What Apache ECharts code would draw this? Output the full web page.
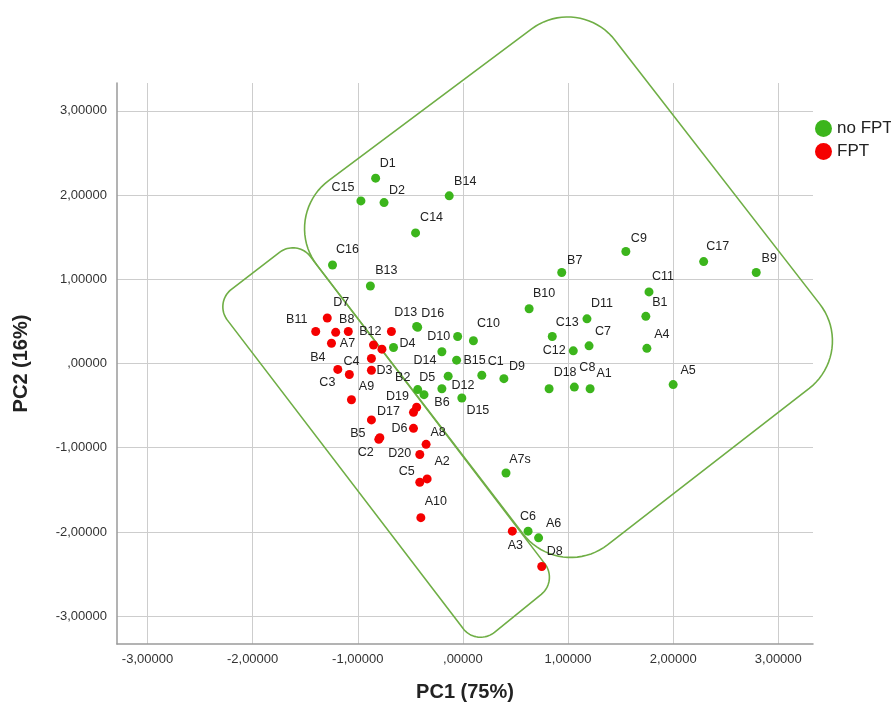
<!DOCTYPE html>
<html>
<head>
<meta charset="utf-8">
<script src="https://cdn.jsdelivr.net/npm/echarts@6/dist/echarts.min.js"></script>
<style>
html,body{margin:0;padding:0;background:#fff;}
#chart{width:891px;height:707px;}
</style>
</head>
<body>
<div id="chart"></div>
<script>
// ---- data ----
const xTicks = [-3, -2, -1, 0, 1, 2, 3];
const yTicks = [-3, -2, -1, 0, 1, 2, 3];

const noFptNames = ['D1','C15','D2','B14','C14','C16','B13','D13','D16','D10','C10','D4','D14','B15','C1','D9','D5','D12','B2','B6','D15','A7s','C6','A6','B10','B7','C9','C17','B9','C11','B1','D11','C13','C7','C12','A4','D18','C8','A1','A5'];
const noFptPC1 = [-0.83,-0.97,-0.75,-0.13,-0.45,-1.24,-0.88,-0.44,-0.43,-0.05,0.10,-0.66,-0.20,-0.06,0.18,0.39,-0.14,-0.20,-0.43,-0.37,-0.01,0.41,0.62,0.72,0.63,0.94,1.55,2.29,2.79,1.77,1.74,1.18,0.85,1.20,1.05,1.75,0.82,1.06,1.21,2.00];
const noFptPC2 = [2.20,1.93,1.91,1.99,1.55,1.17,0.92,0.44,0.43,0.32,0.27,0.19,0.14,0.04,-0.14,-0.18,-0.15,-0.30,-0.31,-0.37,-0.41,-1.30,-1.99,-2.07,0.65,1.08,1.33,1.21,1.08,0.85,0.56,0.53,0.32,0.21,0.15,0.18,-0.30,-0.28,-0.30,-0.25];

const fptNames = ['D7','B11','B8','','B12','A7','','','C4','B4','C3','D3','A9','','D19','D17','D6','B5','C2','A8','D20','C5','A2','A10','A3','D8'];
const fptPC1 = [-1.29,-1.40,-1.21,-1.09,-0.68,-1.25,-0.85,-0.77,-0.87,-1.19,-1.08,-0.87,-1.06,-0.44,-0.47,-0.87,-0.47,-0.79,-0.80,-0.35,-0.41,-0.41,-0.34,-0.40,0.47,0.75];
const fptPC2 = [0.54,0.38,0.37,0.38,0.38,0.24,0.22,0.17,0.06,-0.07,-0.13,-0.08,-0.43,-0.52,-0.58,-0.67,-0.77,-0.88,-0.90,-0.96,-1.08,-1.41,-1.37,-1.83,-1.99,-2.41];

// annotation outlines (corner points in PC units, drawn with rounded corners)
const regionNoFpt = [[1.103,4.391],[3.745,0.142],[0.922,-2.592],[-1.740,1.740]];
const regionFpt = [[-1.578,1.479],[0.903,-2.580],[0.133,-3.361],[-2.367,0.722]];

// label placement (pixel offsets of each label from its point)
const labelOffset = {
  D1:[12,-15], C15:[-18,-13], D2:[13,-12], B14:[16,-14], C14:[16,-15], C16:[15,-15], B13:[16,-15],
  D13:[-11,-14], D16:[15,-14], D10:[-19,0], C10:[15,-17], D4:[14,-4], D14:[-17,9], B15:[18,0],
  C1:[14,-14], D9:[13,-12], D5:[-21,1], D12:[21,-3], B2:[-15,-12], B6:[18,8], D15:[16,13],
  A7s:[14,-13], C6:[0,-15], A6:[15,-14], B10:[15,-15], B7:[13,-12], C9:[13,-13], C17:[14,-15],
  B9:[13,-14], C11:[14,-15], B1:[14,-14], D11:[15,-15], C13:[15,-14], C7:[14,-14], C12:[-19,0],
  A4:[15,-14], D18:[16,-16], C8:[13,-20], A1:[14,-15], A5:[15,-14],
  D7:[14,-15], B11:[-19,-12], B8:[11,-13], B12:[-21,0], A7:[16,0], C4:[-20,3], B4:[-20,-12],
  C3:[-22,8], D3:[13,0], A9:[15,-13], D19:[-16,-16], D17:[17,-8], D6:[-14,0], B5:[-22,-4],
  C2:[-13,13], A8:[12,-12], D20:[-20,-1], C5:[-13,-11], A2:[15,-17], A10:[15,-16], A3:[3,14], D8:[13,-15]
};

function fmt(v) {
  let s = Math.abs(v).toFixed(5).replace('.', ',');
  if (s.startsWith('0,')) s = s.slice(1);
  return (v < 0 ? '-' : '') + s;
}

function buildPoints(names, xs, ys) {
  return names.map((n, i) => {
    const off = labelOffset[n];
    return {
      name: n,
      value: [xs[i], ys[i]],
      label: n ? { show: true, position: 'inside', formatter: '{b}', offset: off || [14, -14] } : { show: false }
    };
  });
}

function roundedPoints(corners, r) {
  const pts = [];
  const n = corners.length;
  for (let i = 0; i < n; i++) {
    const p = corners[i], a = corners[(i + n - 1) % n], b = corners[(i + 1) % n];
    let u1 = [a[0] - p[0], a[1] - p[1]], u2 = [b[0] - p[0], b[1] - p[1]];
    const l1 = Math.hypot(u1[0], u1[1]), l2 = Math.hypot(u2[0], u2[1]);
    u1 = [u1[0] / l1, u1[1] / l1]; u2 = [u2[0] / l2, u2[1] / l2];
    const theta = Math.acos(Math.max(-1, Math.min(1, u1[0] * u2[0] + u1[1] * u2[1])));
    let t = r / Math.tan(theta / 2);
    t = Math.min(t, l1 * 0.45, l2 * 0.45);
    const rr = t * Math.tan(theta / 2);
    const bis = [u1[0] + u2[0], u1[1] + u2[1]];
    const lb = Math.hypot(bis[0], bis[1]);
    const dc = rr / Math.sin(theta / 2);
    const c = [p[0] + bis[0] / lb * dc, p[1] + bis[1] / lb * dc];
    const A = [p[0] + u1[0] * t, p[1] + u1[1] * t], B = [p[0] + u2[0] * t, p[1] + u2[1] * t];
    const a0 = Math.atan2(A[1] - c[1], A[0] - c[0]);
    const a1 = Math.atan2(B[1] - c[1], B[0] - c[0]);
    let d = a1 - a0;
    while (d > Math.PI) d -= 2 * Math.PI;
    while (d < -Math.PI) d += 2 * Math.PI;
    const steps = 20;
    for (let k = 0; k <= steps; k++) {
      const ang = a0 + d * k / steps;
      pts.push([c[0] + rr * Math.cos(ang), c[1] + rr * Math.sin(ang)]);
    }
  }
  return pts;
}

const regions = [
  { corners: regionNoFpt, radius: 60 },
  { corners: regionFpt, radius: 22 }
];

const FONT = "'Liberation Sans', Arial, sans-serif";

const chart = echarts.init(document.getElementById('chart'), null, { renderer: 'canvas' });
chart.setOption({
  backgroundColor: '#ffffff',
  animation: false,
  textStyle: { fontFamily: FONT },
  grid: { left: 117, right: 78, top: 83, bottom: 62, containLabel: false },
  legend: {
    data: [{ name: 'no FPT' }, { name: 'FPT' }],
    orient: 'vertical',
    left: 815, top: 120, padding: 0,
    icon: 'circle',
    itemWidth: 17, itemHeight: 17, itemGap: 6,
    textStyle: { fontSize: 17, color: '#222', fontFamily: FONT }
  },
  xAxis: {
    type: 'value', min: -3.29, max: 3.33,
    name: 'PC1 (75%)', nameLocation: 'middle', nameGap: 38,
    nameTextStyle: { fontSize: 20, fontWeight: 'bold', color: '#222', fontFamily: FONT },
    axisLine: { show: true, onZero: false, lineStyle: { color: '#9a9a9a', width: 1.5 } },
    axisTick: { show: false, customValues: xTicks },
    axisLabel: { customValues: xTicks, formatter: fmt, fontSize: 13, color: '#333', margin: 9, fontFamily: FONT },
    splitLine: { show: true, lineStyle: { color: '#cdcdcd', width: 1 } }
  },
  yAxis: {
    type: 'value', min: -3.33, max: 3.33,
    name: 'PC2 (16%)', nameLocation: 'middle', nameGap: 86, nameRotate: 90,
    nameTextStyle: { fontSize: 20, fontWeight: 'bold', color: '#222', fontFamily: FONT },
    axisLine: { show: true, onZero: false, lineStyle: { color: '#9a9a9a', width: 1.5 } },
    axisTick: { show: false, customValues: yTicks },
    axisLabel: { customValues: yTicks, formatter: fmt, fontSize: 13, color: '#333', margin: 10, fontFamily: FONT },
    splitLine: { show: true, lineStyle: { color: '#cdcdcd', width: 1 } }
  },
  series: [
    {
      type: 'custom', name: 'regions', silent: true, clip: false, z: 1,
      data: [[0, 0], [0, 0]],
      renderItem: function (params, api) {
        const reg = regions[params.dataIndex];
        const px = reg.corners.map(c => api.coord(c));
        return {
          type: 'polygon',
          shape: { points: roundedPoints(px, reg.radius) },
          style: { fill: 'none', stroke: '#6fae45', lineWidth: 1.6 }
        };
      }
    },
    {
      type: 'scatter', name: 'no FPT', z: 3,
      symbol: 'circle', symbolSize: 9,
      itemStyle: { color: '#3cb51c', opacity: 1 },
      label: { color: '#222', fontSize: 12.5, fontFamily: FONT },
      data: buildPoints(noFptNames, noFptPC1, noFptPC2)
    },
    {
      type: 'scatter', name: 'FPT', z: 3,
      symbol: 'circle', symbolSize: 9,
      itemStyle: { color: '#f50000', opacity: 1 },
      label: { color: '#222', fontSize: 12.5, fontFamily: FONT },
      data: buildPoints(fptNames, fptPC1, fptPC2)
    }
  ]
});
</script>
</body>
</html>
